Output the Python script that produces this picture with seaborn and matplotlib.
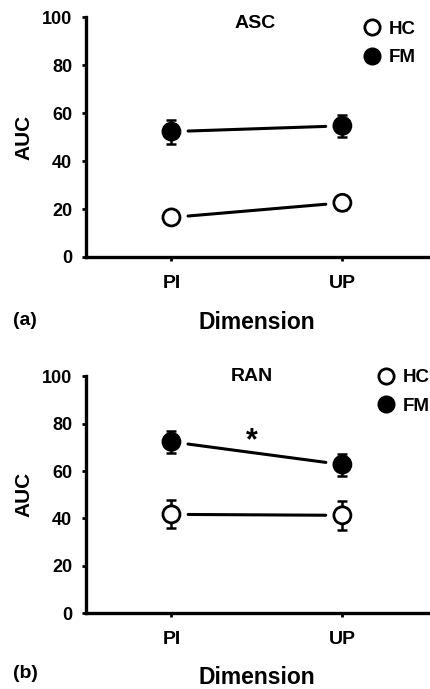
import numpy as np
import pandas as pd
import matplotlib
matplotlib.use("Agg")
import matplotlib.pyplot as plt
import seaborn as sns
from matplotlib.lines import Line2D

# ---- data ----
dimensions = ["PI", "UP"]
groups = ["HC", "FM"]
asc_hc_mean = [16.5, 22.6]
asc_hc_se = [1.5, 2.8]
asc_fm_mean = [52.3, 54.7]
asc_fm_se = [5.0, 4.7]
ran_hc_mean = [41.7, 41.3]
ran_hc_se = [5.9, 6.2]
ran_fm_mean = [72.3, 62.7]
ran_fm_se = [4.7, 4.6]
panel_titles = ["ASC", "RAN"]
panel_tags = ["(a)", "(b)"]
yticks = [0, 20, 40, 60, 80, 100]

sns.set_theme(style="ticks")
plt.rcParams["font.family"] = ["Liberation Sans", "DejaVu Sans"]
plt.rcParams.update({
    "font.weight": "bold",
    "text.color": "black",
    "axes.labelcolor": "black",
    "axes.edgecolor": "black",
    "xtick.color": "black",
    "ytick.color": "black",
})

fig = plt.figure(figsize=(4.3, 6.89), dpi=100)
axes = [fig.add_axes([0.2, 0.627, 0.795, 0.348]),
        fig.add_axes([0.2, 0.110, 0.795, 0.344])]

panels = [
    (asc_hc_mean, asc_hc_se, asc_fm_mean, asc_fm_se),
    (ran_hc_mean, ran_hc_se, ran_fm_mean, ran_fm_se),
]

fills = {"HC": "white", "FM": "black"}
leg_anchor = [(0.815, 0.985), (0.855, 1.03)]
xlabel_pad = [14, 13]

for i, (ax, (hm, hs, fm, fs)) in enumerate(zip(axes, panels)):
    rows = []
    for g, m, s in (("HC", hm, hs), ("FM", fm, fs)):
        for d, mv, sv in zip(dimensions, m, s):
            rows.append({"Dimension": d, "Group": g, "AUC": mv, "SE": sv})
    df = pd.DataFrame(rows)
    df["pos"] = df["Dimension"].map({d: k for k, d in enumerate(dimensions)})

    # connecting lines with gaps
    for g in groups:
        sub = df[df["Group"] == g]
        ax.annotate("", xy=(sub["pos"].iloc[1], sub["AUC"].iloc[1]),
                    xytext=(sub["pos"].iloc[0], sub["AUC"].iloc[0]),
                    arrowprops=dict(arrowstyle="-", lw=2.2, color="black",
                                    shrinkA=12, shrinkB=12))
        ax.errorbar(sub["pos"], sub["AUC"], yerr=sub["SE"], fmt="none",
                    ecolor="black", elinewidth=1.8, capsize=3.5, capthick=1.8,
                    zorder=2)

    sns.scatterplot(data=df, x="pos", y="AUC", hue="Group", palette=fills,
                    hue_order=groups, s=150, edgecolor="black", linewidth=2,
                    legend=False, zorder=4, ax=ax)

    ax.set_xlim(-0.5, 1.5)
    ax.set_ylim(0, 100)
    ax.set_xticks(range(len(dimensions)))
    ax.set_xticklabels(dimensions, fontsize=14, fontweight="bold")
    ax.set_yticks(yticks)
    ax.set_yticklabels([str(t) for t in yticks], fontsize=13, fontweight="bold")
    ax.tick_params(axis="x", length=3, width=2, pad=10)
    ax.tick_params(axis="y", length=3, width=2, pad=7)
    for sp in ["top", "right"]:
        ax.spines[sp].set_visible(False)
    for sp in ["left", "bottom"]:
        ax.spines[sp].set_linewidth(2.4)
    ax.set_xlabel("Dimension", fontsize=16.5, fontweight="bold",
                  labelpad=xlabel_pad[i])
    ax.set_ylabel("AUC", fontsize=15, fontweight="bold", labelpad=6)

    handles = [Line2D([0], [0], marker="o", linestyle="none", markersize=11,
                      markerfacecolor=fills[g], markeredgecolor="black",
                      markeredgewidth=2) for g in groups]
    ax.legend(handles, groups, loc="upper left", frameon=False,
              bbox_to_anchor=leg_anchor[i],
              handlelength=0.8, handletextpad=0.5, labelspacing=0.6,
              borderpad=0, borderaxespad=0,
              prop={"size": 13.5, "weight": "bold"})

axes[0].text(0.49, 97.5, panel_titles[0], ha="center", va="center",
             fontsize=14, fontweight="bold")
axes[1].text(0.47, 100, panel_titles[1], ha="center", va="center",
             fontsize=14, fontweight="bold")
axes[1].text(0.47, 72.5, "*", ha="center", va="center", fontsize=22,
             fontweight="bold")

fig.text(0.03, 1 - 320 / 689, panel_tags[0], ha="left", va="center",
         fontsize=14, fontweight="bold")
fig.text(0.03, 1 - 673 / 689, panel_tags[1], ha="left", va="center",
         fontsize=14, fontweight="bold")

fig.savefig("out.png", dpi=100, facecolor="white")
